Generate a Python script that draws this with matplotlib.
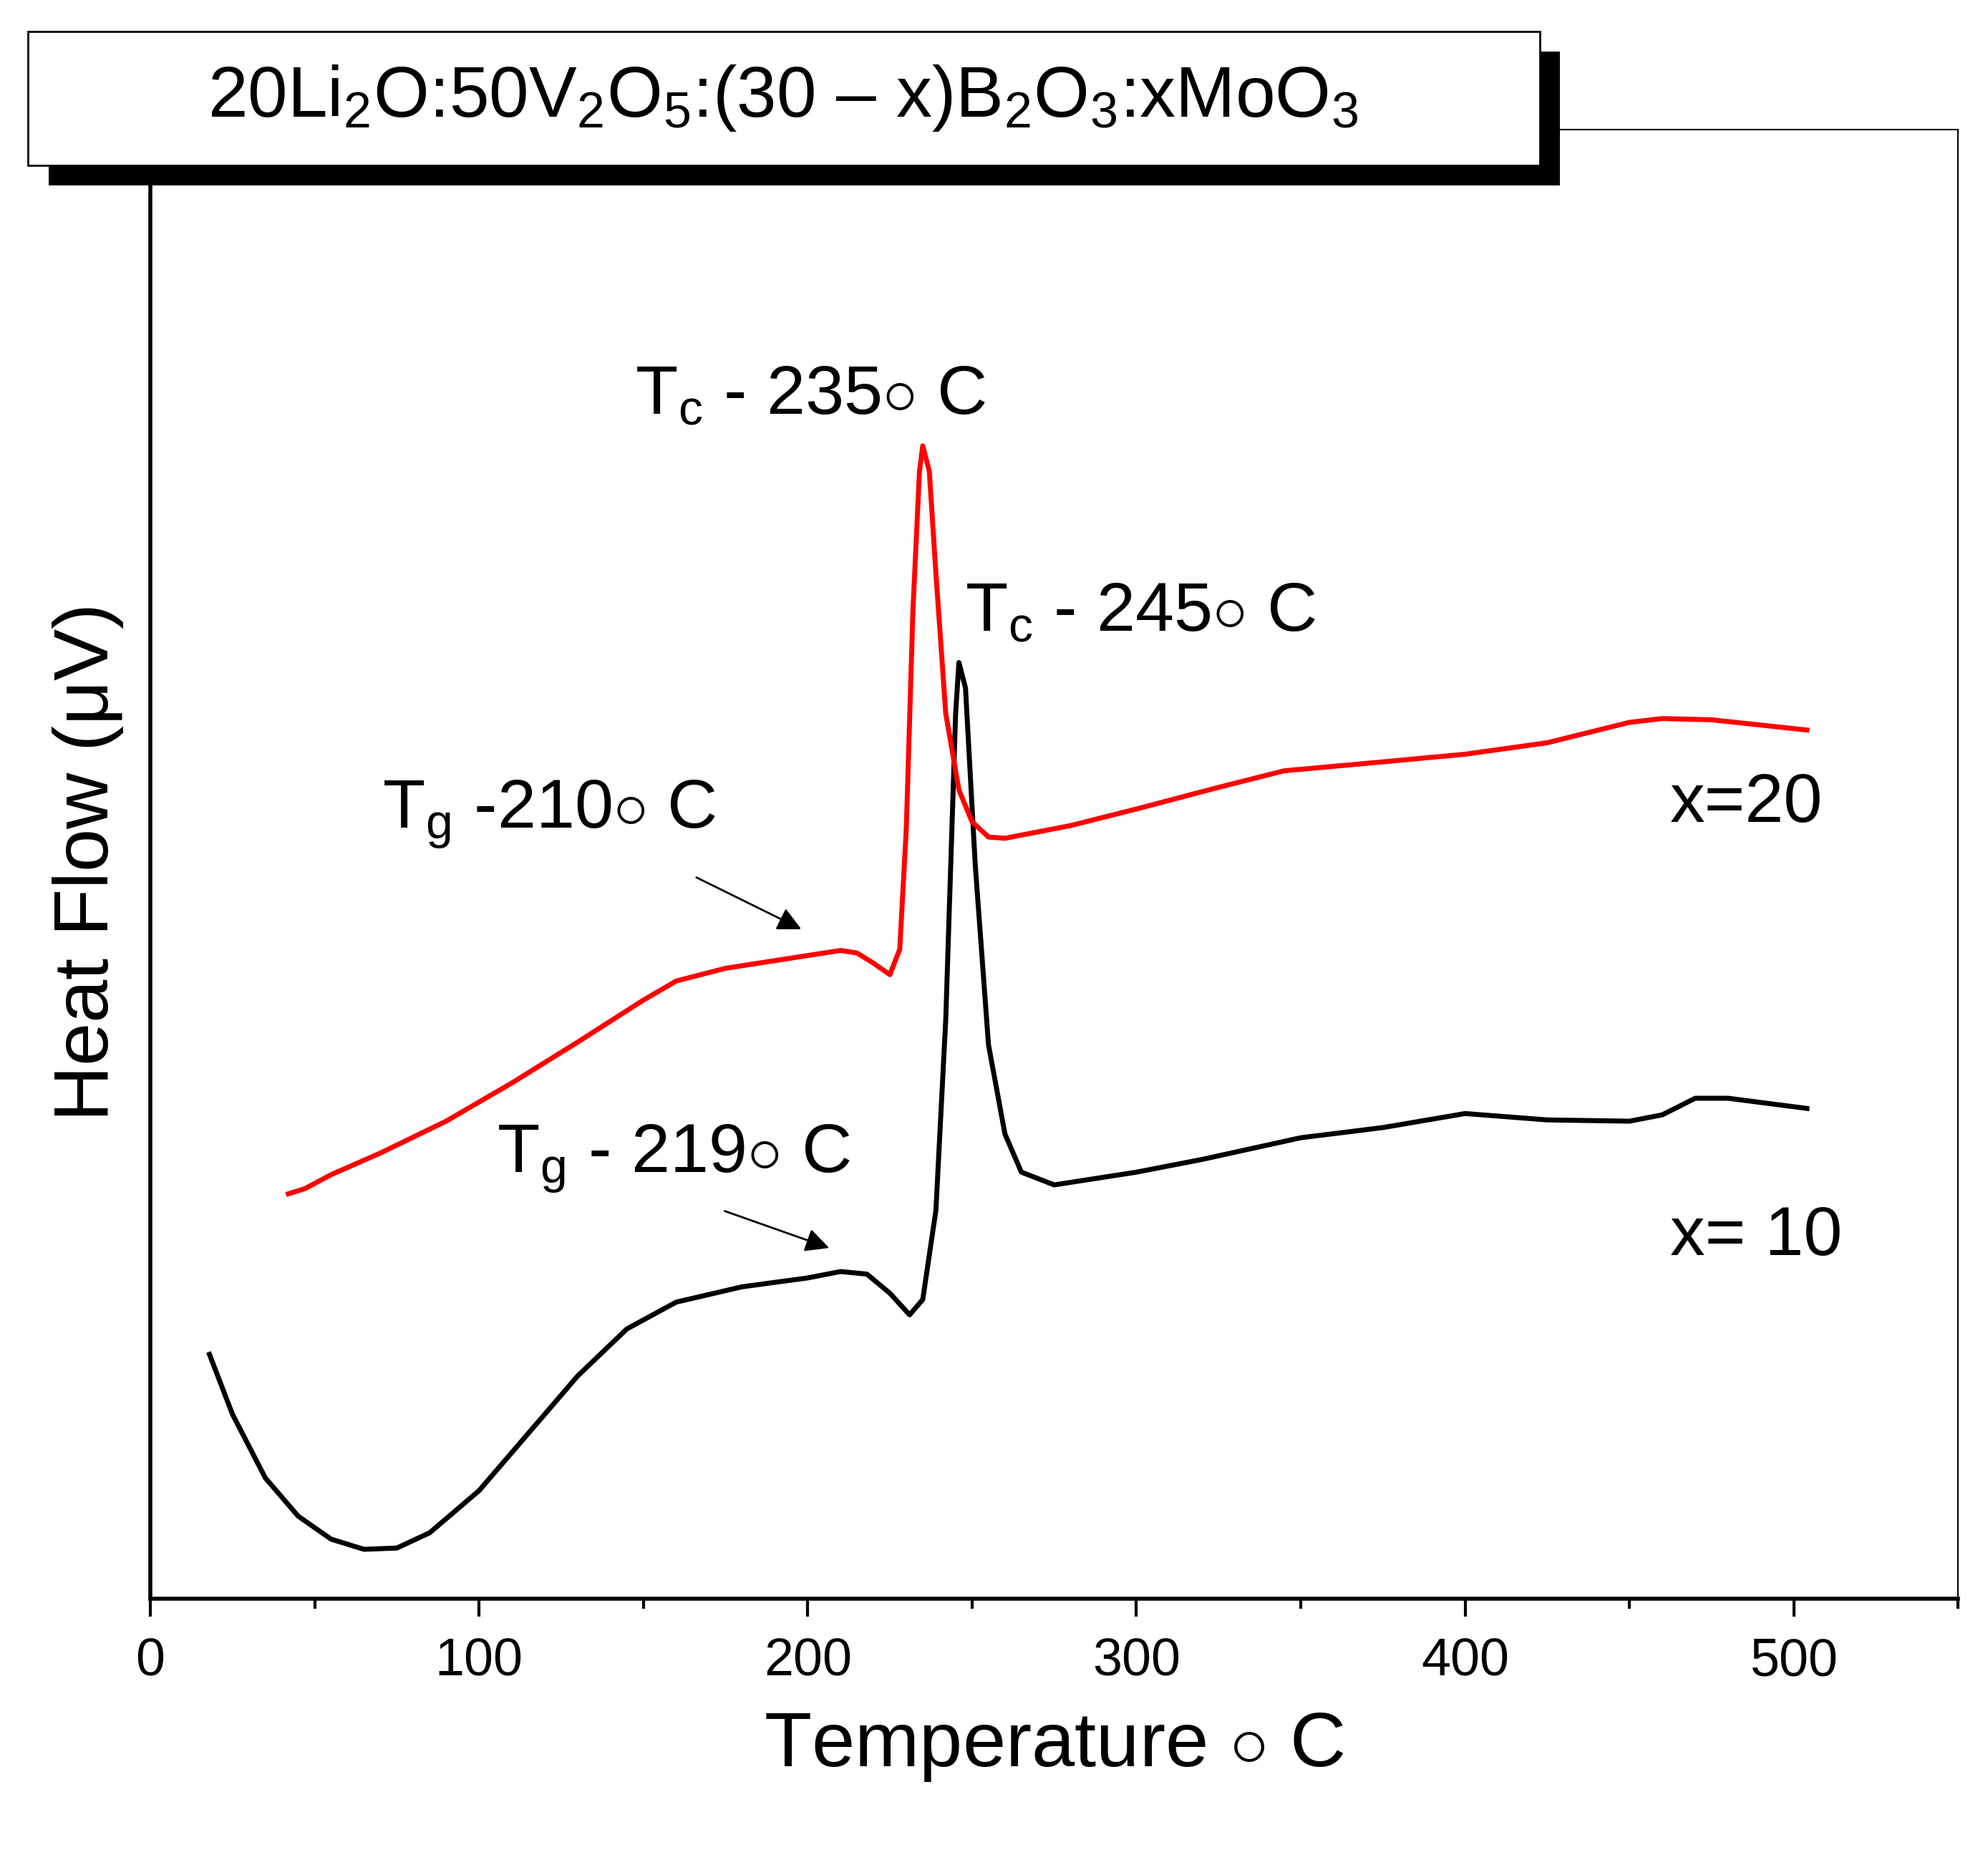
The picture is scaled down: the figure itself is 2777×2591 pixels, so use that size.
import matplotlib
matplotlib.use("Agg")
import matplotlib.pyplot as plt
from matplotlib.patches import Rectangle

plt.rcParams['font.family'] = 'Liberation Sans'
plt.rcParams['mathtext.fontset'] = 'custom'
plt.rcParams['mathtext.rm'] = 'Liberation Sans'
plt.rcParams['mathtext.it'] = 'Liberation Sans'

t10 = [18,25,35,45,55,65,75,85,100,115,130,145,160,180,200,210,218,225,231,235,239,242,245,246,248,251,255,260,265,275,300,320,350,375,400,425,450,460,470,480,504]
h10 = [1063,1110,1160,1190,1208,1216,1215,1203,1170,1125,1080,1043,1022,1010,1003,998,1000,1015,1032,1020,950,800,560,520,540,680,820,890,920,930,920,910,893,885,874,879,880,875,862,862,870]
t20 = [42,47,55,70,90,110,130,150,160,175,200,210,215,220,225,228,230,232,234,235,237,239,242,246,250,255,260,280,300,325,345,375,400,425,450,460,475,504]
h20 = [937,933,922,905,880,850,818,785,770,760,750,746,748,756,765,745,650,480,370,350,370,450,560,620,645,657,658,648,635,618,605,598,592,583,567,564,565,573]
xticks = [0,100,200,300,400,500]

H = 1255
fig = plt.figure(figsize=(27.77,25.91), dpi=100)
ax = fig.add_axes([0.0756,0.138,0.9094,0.792])
ax.plot(t10,[H-v for v in h10],color='black',lw=5)
ax.plot(t20,[H-v for v in h20],color='#ff0000',lw=5)
ax.set_xlim(0,550); ax.set_ylim(0,1153)
ax.set_xticks(xticks); ax.set_xticks(range(50,551,100),minor=True)
ax.set_yticks([])
ax.tick_params(axis='x',which='major',length=18,width=3,labelsize=53,pad=20)
ax.tick_params(axis='x',which='minor',length=10,width=3)
for s in ['left','bottom']: ax.spines[s].set_linewidth(4)
for s in ['top','right']: ax.spines[s].set_linewidth(1.5)
ax.set_xlabel(r'Temperature $\circ$ C',fontsize=78,labelpad=25)
ax.set_ylabel(r'Heat Flow ($\mu$V)',fontsize=78,labelpad=25)

fs=70
ax.text(70.6,605,r'T$_\mathrm{g}$ -210$\circ$ C',fontsize=fs,va='baseline')
ax.text(147.4,930,r'T$_\mathrm{c}$ - 235$\circ$ C',fontsize=fs,va='baseline')
ax.text(247.9,760,r'T$_\mathrm{c}$ - 245$\circ$ C',fontsize=fs,va='baseline')
ax.text(105.5,335,r'T$_\mathrm{g}$ - 219$\circ$ C',fontsize=fs,va='baseline')
ax.text(462.4,610,'x=20',fontsize=fs,va='baseline')
ax.text(462.4,270,'x= 10',fontsize=fs,va='baseline')
ax.annotate('',xy=(198.6,525),xytext=(165.6,567),arrowprops=dict(arrowstyle='-|>',color='black',lw=2,mutation_scale=50))
ax.annotate('',xy=(207.1,275),xytext=(174.2,305),arrowprops=dict(arrowstyle='-|>',color='black',lw=2,mutation_scale=50))

fig.patches.append(Rectangle((0.0244,0.9),0.7603,0.0722,transform=fig.transFigure,facecolor='black',zorder=5))
fig.patches.append(Rectangle((0.0141,0.911),0.7603,0.0722,transform=fig.transFigure,facecolor='white',edgecolor='black',lw=2,zorder=6))
fig.text(0.394,0.947,r'20Li$_2$O:50V$_2$O$_5$:(30 – x)B$_2$O$_3$:xMoO$_3$',fontsize=72,ha='center',va='center',zorder=7)
fig.savefig('out.png',dpi=100)
